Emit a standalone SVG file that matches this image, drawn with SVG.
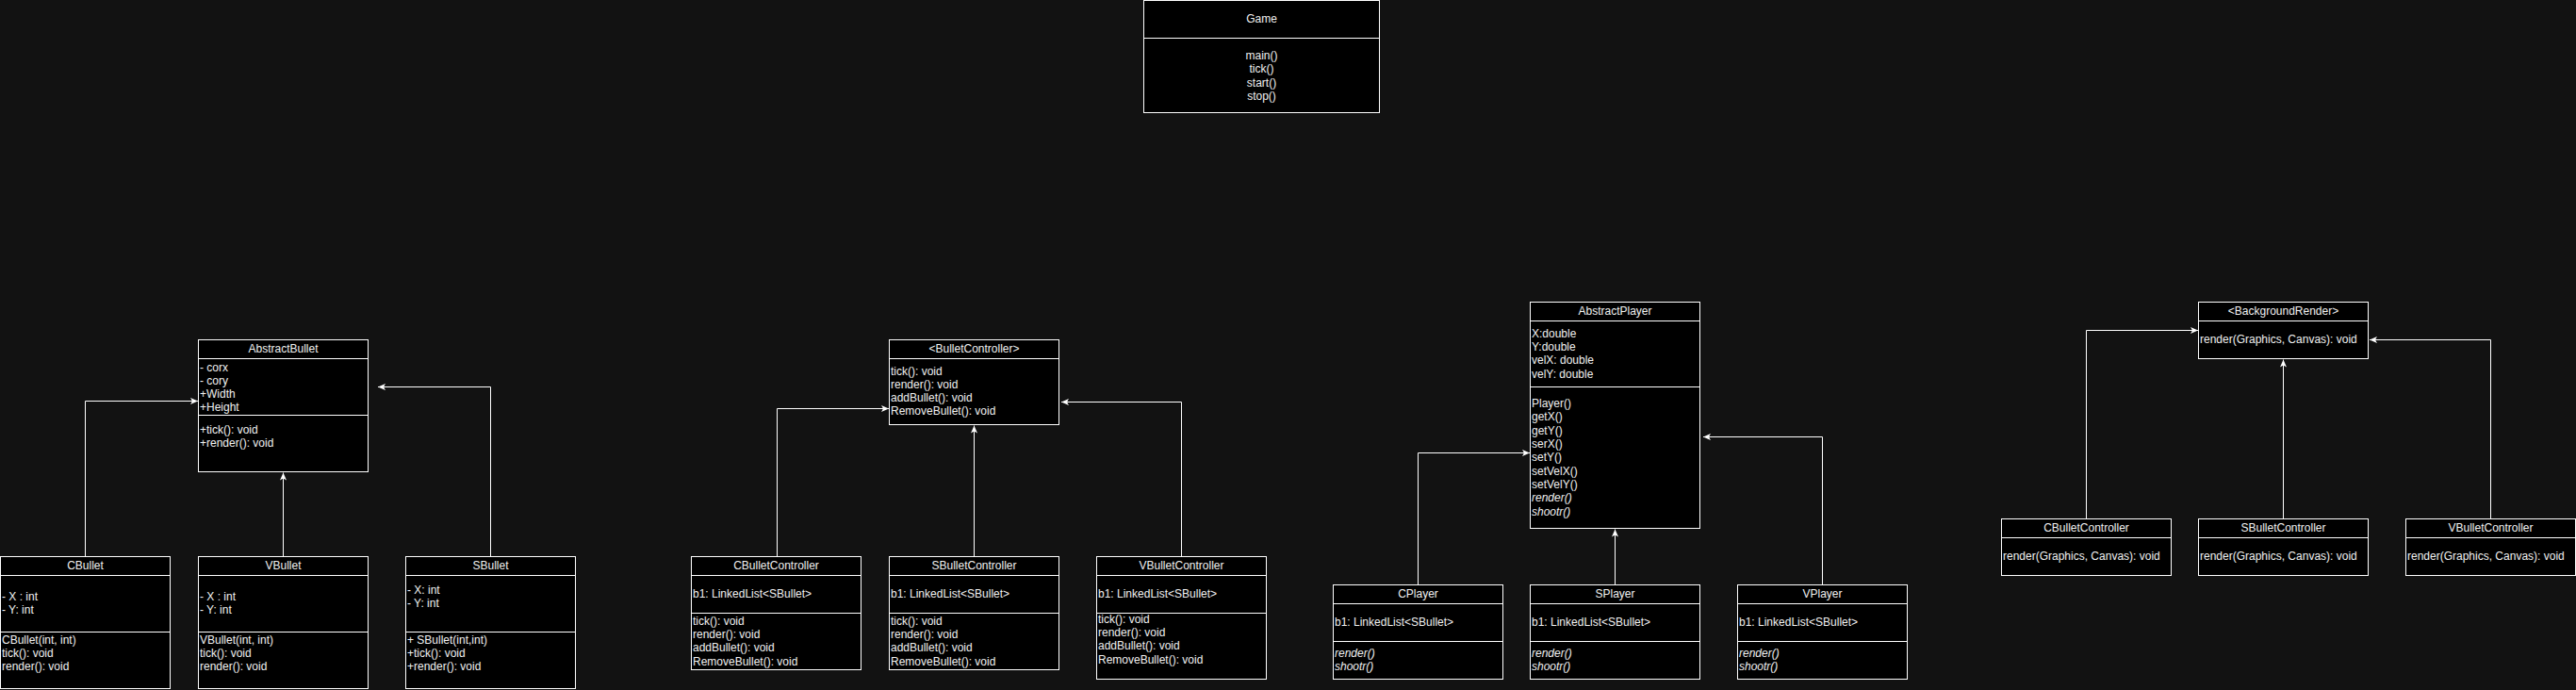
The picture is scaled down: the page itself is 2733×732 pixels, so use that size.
<svg xmlns="http://www.w3.org/2000/svg" width="2733" height="732" viewBox="0 0 2733 732">
<style>
.box{fill:#000;stroke:#fff;stroke-width:1}
.sep{stroke:#fff;stroke-width:1}
text{font-family:"Liberation Sans",Arial,Helvetica,sans-serif;font-size:12px;fill:#f0f0f0}
.t{text-anchor:middle}
.i{font-style:italic}
.edge{fill:none;stroke:#fff;stroke-width:1}
</style>
<defs>
<marker id="arr" viewBox="0 0 8 8" refX="8" refY="4" markerWidth="8" markerHeight="8" markerUnits="userSpaceOnUse" orient="auto">
<path d="M8,4 L0,0.5 L2,4 L0,7.5 Z" fill="#fff"/>
</marker>
</defs>
<rect width="2733" height="732" fill="#121212"/>

<g id="edges">
<path class="edge" marker-end="url(#arr)" d="M90.5 590 V425.5 H210"/>
<path class="edge" marker-end="url(#arr)" d="M300.5 590 V501.5"/>
<path class="edge" marker-end="url(#arr)" d="M520.5 590 V410.5 H401"/>
<path class="edge" marker-end="url(#arr)" d="M824.5 590 V433.5 H943"/>
<path class="edge" marker-end="url(#arr)" d="M1033.5 590 V451.5"/>
<path class="edge" marker-end="url(#arr)" d="M1253.5 590 V426.5 H1126"/>
<path class="edge" marker-end="url(#arr)" d="M1504.5 620 V480.5 H1623"/>
<path class="edge" marker-end="url(#arr)" d="M1713.5 620 V561.5"/>
<path class="edge" marker-end="url(#arr)" d="M1933.5 620 V463.5 H1807"/>
<path class="edge" marker-end="url(#arr)" d="M2213.5 550 V350.5 H2332"/>
<path class="edge" marker-end="url(#arr)" d="M2422.5 550 V381.5"/>
<path class="edge" marker-end="url(#arr)" d="M2642.5 550 V360.5 H2514"/>
</g>

<g id="Game">
<rect class="box" x="1213.5" y="0.5" width="250" height="119"/>
<line class="sep" x1="1213.5" y1="40.5" x2="1463.5" y2="40.5"/>
<text class="t" x="1338.5" y="24">Game</text>
<text class="t" x="1338.5" y="63">main()</text>
<text class="t" x="1338.5" y="77.3">tick()</text>
<text class="t" x="1338.5" y="91.6">start()</text>
<text class="t" x="1338.5" y="105.9">stop()</text>
</g>

<g id="AbstractBullet">
<rect class="box" x="210.5" y="360.5" width="180" height="140"/>
<line class="sep" x1="210.5" y1="380.5" x2="390.5" y2="380.5"/>
<line class="sep" x1="210.5" y1="440.5" x2="390.5" y2="440.5"/>
<text class="t" x="300.5" y="374">AbstractBullet</text>
<text x="212" y="393.5">- corx</text>
<text x="212" y="407.7">- cory</text>
<text x="212" y="421.9">+Width</text>
<text x="212" y="436.1">+Height</text>
<text x="212" y="460">+tick(): void</text>
<text x="212" y="474">+render(): void</text>
</g>

<g id="CBullet">
<rect class="box" x="0.5" y="590.5" width="180" height="140"/>
<line class="sep" x1="0.5" y1="610.5" x2="180.5" y2="610.5"/>
<line class="sep" x1="0.5" y1="670.5" x2="180.5" y2="670.5"/>
<text class="t" x="90.5" y="603.5">CBullet</text>
<text x="2" y="636.7">- X : int</text>
<text x="2" y="651">- Y: int</text>
<text x="2" y="683">CBullet(int, int)</text>
<text x="2" y="697.2">tick(): void</text>
<text x="2" y="711.4">render(): void</text>
</g>

<g id="VBullet">
<rect class="box" x="210.5" y="590.5" width="180" height="140"/>
<line class="sep" x1="210.5" y1="610.5" x2="390.5" y2="610.5"/>
<line class="sep" x1="210.5" y1="670.5" x2="390.5" y2="670.5"/>
<text class="t" x="300.5" y="603.5">VBullet</text>
<text x="212" y="636.7">- X : int</text>
<text x="212" y="651">- Y: int</text>
<text x="212" y="683">VBullet(int, int)</text>
<text x="212" y="697.2">tick(): void</text>
<text x="212" y="711.4">render(): void</text>
</g>

<g id="SBullet">
<rect class="box" x="430.5" y="590.5" width="180" height="140"/>
<line class="sep" x1="430.5" y1="610.5" x2="610.5" y2="610.5"/>
<line class="sep" x1="430.5" y1="670.5" x2="610.5" y2="670.5"/>
<text class="t" x="520.5" y="603.5">SBullet</text>
<text x="432" y="629.7">- X: int</text>
<text x="432" y="643.9">- Y: int</text>
<text x="432" y="683">+ SBullet(int,int)</text>
<text x="432" y="697.2">+tick(): void</text>
<text x="432" y="711.4">+render(): void</text>
</g>

<g id="BulletController">
<rect class="box" x="943.5" y="360.5" width="180" height="90"/>
<line class="sep" x1="943.5" y1="380.5" x2="1123.5" y2="380.5"/>
<text class="t" x="1033.5" y="374">&lt;BulletController&gt;</text>
<text x="945" y="397.5">tick(): void</text>
<text x="945" y="411.8">render(): void</text>
<text x="945" y="426.1">addBullet(): void</text>
<text x="945" y="440.4">RemoveBullet(): void</text>
</g>

<g id="CBulletController">
<rect class="box" x="733.5" y="590.5" width="180" height="120"/>
<line class="sep" x1="733.5" y1="610.5" x2="913.5" y2="610.5"/>
<line class="sep" x1="733.5" y1="650.5" x2="913.5" y2="650.5"/>
<text class="t" x="823.5" y="603.5">CBulletController</text>
<text x="735" y="634">b1: LinkedList&lt;SBullet&gt;</text>
<text x="735" y="662.7">tick(): void</text>
<text x="735" y="677">render(): void</text>
<text x="735" y="691.3">addBullet(): void</text>
<text x="735" y="705.6">RemoveBullet(): void</text>
</g>

<g id="SBulletController">
<rect class="box" x="943.5" y="590.5" width="180" height="120"/>
<line class="sep" x1="943.5" y1="610.5" x2="1123.5" y2="610.5"/>
<line class="sep" x1="943.5" y1="650.5" x2="1123.5" y2="650.5"/>
<text class="t" x="1033.5" y="603.5">SBulletController</text>
<text x="945" y="634">b1: LinkedList&lt;SBullet&gt;</text>
<text x="945" y="662.7">tick(): void</text>
<text x="945" y="677">render(): void</text>
<text x="945" y="691.3">addBullet(): void</text>
<text x="945" y="705.6">RemoveBullet(): void</text>
</g>

<g id="VBulletController">
<rect class="box" x="1163.5" y="590.5" width="180" height="130"/>
<line class="sep" x1="1163.5" y1="610.5" x2="1343.5" y2="610.5"/>
<line class="sep" x1="1163.5" y1="650.5" x2="1343.5" y2="650.5"/>
<text class="t" x="1253.5" y="603.5">VBulletController</text>
<text x="1165" y="634">b1: LinkedList&lt;SBullet&gt;</text>
<text x="1165" y="660.7">tick(): void</text>
<text x="1165" y="675">render(): void</text>
<text x="1165" y="689.3">addBullet(): void</text>
<text x="1165" y="703.6">RemoveBullet(): void</text>
</g>

<g id="AbstractPlayer">
<rect class="box" x="1623.5" y="320.5" width="180" height="240"/>
<line class="sep" x1="1623.5" y1="340.5" x2="1803.5" y2="340.5"/>
<line class="sep" x1="1623.5" y1="410.5" x2="1803.5" y2="410.5"/>
<text class="t" x="1713.5" y="334">AbstractPlayer</text>
<text x="1625" y="357.7">X:double</text>
<text x="1625" y="372">Y:double</text>
<text x="1625" y="386.3">velX: double</text>
<text x="1625" y="400.6">velY: double</text>
<text x="1625" y="432">Player()</text>
<text x="1625" y="446.35">getX()</text>
<text x="1625" y="460.7">getY()</text>
<text x="1625" y="475.05">serX()</text>
<text x="1625" y="489.4">setY()</text>
<text x="1625" y="503.75">setVelX()</text>
<text x="1625" y="518.1">setVelY()</text>
<text class="i" x="1625" y="532.45">render()</text>
<text class="i" x="1625" y="546.8">shootr()</text>
</g>

<g id="CPlayer">
<rect class="box" x="1414.5" y="620.5" width="180" height="100"/>
<line class="sep" x1="1414.5" y1="640.5" x2="1594.5" y2="640.5"/>
<line class="sep" x1="1414.5" y1="680.5" x2="1594.5" y2="680.5"/>
<text class="t" x="1504.5" y="633.5">CPlayer</text>
<text x="1416" y="664">b1: LinkedList&lt;SBullet&gt;</text>
<text class="i" x="1416" y="696.7">render()</text>
<text class="i" x="1416" y="711">shootr()</text>
</g>

<g id="SPlayer">
<rect class="box" x="1623.5" y="620.5" width="180" height="100"/>
<line class="sep" x1="1623.5" y1="640.5" x2="1803.5" y2="640.5"/>
<line class="sep" x1="1623.5" y1="680.5" x2="1803.5" y2="680.5"/>
<text class="t" x="1713.5" y="633.5">SPlayer</text>
<text x="1625" y="664">b1: LinkedList&lt;SBullet&gt;</text>
<text class="i" x="1625" y="696.7">render()</text>
<text class="i" x="1625" y="711">shootr()</text>
</g>

<g id="VPlayer">
<rect class="box" x="1843.5" y="620.5" width="180" height="100"/>
<line class="sep" x1="1843.5" y1="640.5" x2="2023.5" y2="640.5"/>
<line class="sep" x1="1843.5" y1="680.5" x2="2023.5" y2="680.5"/>
<text class="t" x="1933.5" y="633.5">VPlayer</text>
<text x="1845" y="664">b1: LinkedList&lt;SBullet&gt;</text>
<text class="i" x="1845" y="696.7">render()</text>
<text class="i" x="1845" y="711">shootr()</text>
</g>

<g id="BackgroundRender">
<rect class="box" x="2332.5" y="320.5" width="180" height="60"/>
<line class="sep" x1="2332.5" y1="340.5" x2="2512.5" y2="340.5"/>
<text class="t" x="2422.5" y="334">&lt;BackgroundRender&gt;</text>
<text x="2334" y="364">render(Graphics, Canvas): void</text>
</g>

<g id="CBulletController2">
<rect class="box" x="2123.5" y="550.5" width="180" height="60"/>
<line class="sep" x1="2123.5" y1="570.5" x2="2303.5" y2="570.5"/>
<text class="t" x="2213.5" y="563.5">CBulletController</text>
<text x="2125" y="593.5">render(Graphics, Canvas): void</text>
</g>

<g id="SBulletController2">
<rect class="box" x="2332.5" y="550.5" width="180" height="60"/>
<line class="sep" x1="2332.5" y1="570.5" x2="2512.5" y2="570.5"/>
<text class="t" x="2422.5" y="563.5">SBulletController</text>
<text x="2334" y="593.5">render(Graphics, Canvas): void</text>
</g>

<g id="VBulletController2">
<rect class="box" x="2552.5" y="550.5" width="180" height="60"/>
<line class="sep" x1="2552.5" y1="570.5" x2="2732.5" y2="570.5"/>
<text class="t" x="2642.5" y="563.5">VBulletController</text>
<text x="2554" y="593.5">render(Graphics, Canvas): void</text>
</g>
</svg>
